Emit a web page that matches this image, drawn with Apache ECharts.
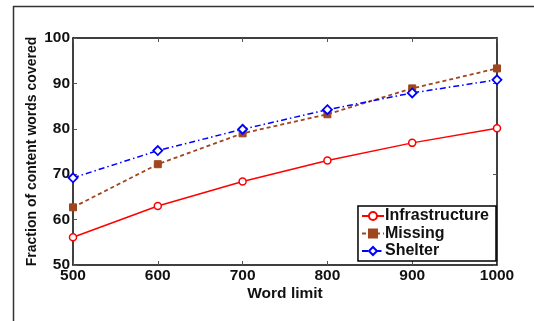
<!DOCTYPE html>
<html><head><meta charset="utf-8">
<script src="https://cdn.jsdelivr.net/npm/echarts@6/dist/echarts.min.js"></script>
<style>html,body{margin:0;padding:0;background:#fff}#c{width:534px;height:321px}</style>
</head><body><div id="c"></div>
<script>
var wordLimits = [500, 600, 700, 800, 900, 1000];
var infrastructure = [56.1, 63.0, 68.4, 73.0, 76.9, 80.1];
var missing = [62.7, 72.2, 79.0, 83.2, 88.9, 93.3];
var shelter = [69.2, 75.2, 79.9, 84.2, 87.9, 90.8];
var yTicks = [50, 60, 70, 80, 90, 100];
var xTicks = [500, 600, 700, 800, 900, 1000];

function pairs(v){ return wordLimits.map(function(x,i){ return [x, v[i]]; }); }
var font = 'Liberation Sans, Arial, sans-serif';
var chart = echarts.init(document.getElementById('c'));
var axCommon = {
  axisLine:{show:true, onZero:false, lineStyle:{color:'#000', width:1.5}},
  axisTick:{show:true, inside:true, length:4, lineStyle:{color:'#555', width:1}},
  splitLine:{show:false}
};
chart.setOption({
  animation:false,
  backgroundColor:'#fff',
  grid:{left:73, right:37, top:38, bottom:56},
  graphic:[
    {type:'line', shape:{x1:13.5, y1:6, x2:13.5, y2:321}, style:{stroke:'#333', lineWidth:1.5}},
    {type:'line', shape:{x1:13, y1:6.5, x2:534, y2:6.5}, style:{stroke:'#333', lineWidth:1.5}}
  ],
  xAxis:[
    Object.assign({type:'value', min:500, max:1000, interval:100, position:'bottom',
      name:'Word limit', nameLocation:'middle', nameGap:21, nameMoveOverlap:false,
      nameTextStyle:{fontFamily:font, fontWeight:'bold', fontSize:15.5, color:'#111'},
      axisLabel:{fontFamily:font, fontWeight:'bold', fontSize:15.5, color:'#111', margin:3,
        formatter:function(v){ return xTicks.indexOf(v)>=0 ? String(v) : ''; }}}, axCommon),
    Object.assign({type:'value', min:500, max:1000, interval:100, position:'top',
      axisLabel:{show:false}}, axCommon)
  ],
  yAxis:[
    Object.assign({type:'value', min:50, max:100, interval:10, position:'left',
      name:'Fraction of content words covered', nameLocation:'middle', nameGap:34, nameMoveOverlap:false,
      nameTextStyle:{fontFamily:font, fontWeight:'bold', fontSize:14, color:'#111'},
      axisLabel:{fontFamily:font, fontWeight:'bold', fontSize:15.5, color:'#111', margin:3,
        formatter:function(v){ return yTicks.indexOf(v)>=0 ? String(v) : ''; }}}, axCommon),
    Object.assign({type:'value', min:50, max:100, interval:10, position:'right',
      axisLabel:{show:false}}, axCommon)
  ],
  legend:{
    orient:'vertical', right:38, top:206, padding:[2,7,2,3], itemGap:1.5,
    backgroundColor:'#fff', borderColor:'#000', borderWidth:1.5, borderRadius:0,
    itemWidth:22, itemHeight:10,
    textStyle:{fontFamily:font, fontWeight:'bold', fontSize:16, color:'#111', padding:[0,0,0,-4]},
    data:['Infrastructure','Missing','Shelter']
  },
  series:[
    {name:'Infrastructure', type:'line', data:pairs(infrastructure), symbol:'circle', symbolSize:7,
      lineStyle:{color:'#ff0000', width:1.5}, itemStyle:{color:'#fff', borderColor:'#ff0000', borderWidth:1.5}, z:3},
    {name:'Missing', type:'line', data:pairs(missing), symbol:'rect', symbolSize:7,
      lineStyle:{color:'#a0461e', width:1.8, type:[4,3]}, itemStyle:{color:'#a0461e', borderColor:'#a0461e', borderWidth:1}, z:4},
    {name:'Shelter', type:'line', data:pairs(shelter), symbol:'diamond', symbolSize:9,
      lineStyle:{color:'#0000ff', width:1.5, type:[6,3,1.5,3]}, itemStyle:{color:'#fff', borderColor:'#0000ff', borderWidth:1.8}, z:5}
  ]
});
</script></body></html>
